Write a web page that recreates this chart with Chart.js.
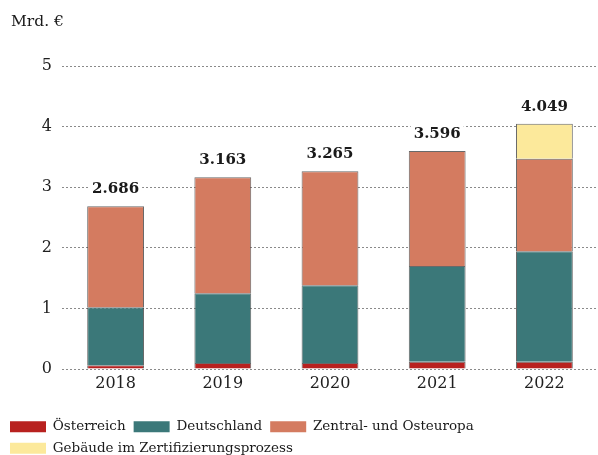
<!DOCTYPE html>
<html>
<head>
<meta charset="utf-8">
<script src="https://cdn.jsdelivr.net/npm/chart.js@4/dist/chart.umd.min.js"></script>
<style>
  body { margin: 0; background: #fff; }
  #chart { display: block; }
</style>
</head>
<body>
<canvas id="chart" width="598" height="455"></canvas>
<script>
const years = ["2018", "2019", "2020", "2021", "2022"]
const oesterreich = [0.06, 0.10, 0.10, 0.12, 0.12]
const deutschland = [0.96, 1.15, 1.28, 1.58, 1.825]
const zentralOst = [1.666, 1.913, 1.885, 1.896, 1.525]
const zertifizierung = [0, 0, 0, 0, 0.579]
const totals = [2.686, 3.163, 3.265, 3.596, 4.049]
const totalLabels = ["2.686", "3.163", "3.265", "3.596", "4.049"]
const yTicks = [0, 1, 2, 3, 4, 5]
const unitLabel = "Mrd. €"

const serif = "'DejaVu Serif', serif"

// totals above each stacked bar, with a white box so the gridline breaks
const totalsPlugin = {
    id: "totals",
    afterDatasetsDraw(chart) {
        const ctx = chart.ctx
        const meta = chart.getDatasetMeta(0)
        const y = chart.scales.y
        ctx.save()
        ctx.font = "bold 15px " + serif
        ctx.textAlign = "center"
        ctx.textBaseline = "alphabetic"
        meta.data.forEach((bar, i) => {
            const top = y.getPixelForValue(totals[i])
            const w = ctx.measureText(totalLabels[i]).width
            ctx.fillStyle = "#fff"
            ctx.fillRect(bar.x - w / 2 - 3, top - 30, w + 6, 20)
            ctx.fillStyle = "#1a1a1a"
            ctx.fillText(totalLabels[i], bar.x, top - 13)
        })
        ctx.restore()
    }
}

// unit label top left
const unitPlugin = {
    id: "unit",
    afterDraw(chart) {
        const ctx = chart.ctx
        ctx.save()
        ctx.font = "15.5px " + serif
        ctx.fillStyle = "#1a1a1a"
        ctx.textAlign = "left"
        ctx.textBaseline = "middle"
        ctx.fillText(unitLabel, 11, 22)
        ctx.restore()
    }
}

const border = "rgba(55,55,55,0.75)"

new Chart(document.getElementById("chart"), {
    type: "bar",
    data: {
        labels: years,
        datasets: [
            { label: "Österreich", data: oesterreich, backgroundColor: "#b8211f", borderColor: border, borderWidth: 1 },
            { label: "Deutschland", data: deutschland, backgroundColor: "#3b7879", borderColor: border, borderWidth: 1 },
            { label: "Zentral- und Osteuropa", data: zentralOst, backgroundColor: "#d47b60", borderColor: border, borderWidth: 1 },
            { label: "Gebäude im Zertifizierungsprozess", data: zertifizierung, backgroundColor: "#fce99b", borderColor: border, borderWidth: 1 }
        ]
    },
    options: {
        responsive: false,
        animation: false,
        layout: { padding: { top: 66, right: 0, left: 2, bottom: -10 } },
        datasets: { bar: { categoryPercentage: 1, barPercentage: 0.53 } },
        scales: {
            x: {
                stacked: true,
                grid: { display: false },
                border: { display: false },
                afterFit(axis) { axis.height = 43 },
                ticks: { color: "#1f1f1f", font: { family: serif, size: 16 }, padding: -3 }
            },
            y: {
                stacked: true,
                min: 0,
                max: 5,
                afterBuildTicks(axis) { axis.ticks = yTicks.map(v => ({ value: v })) },
                afterFit(axis) { axis.width = 60 },
                grid: { color: "#8a8a8a", lineWidth: 1, drawTicks: false },
                border: { display: false, dash: [2, 2] },
                ticks: { color: "#1f1f1f", font: { family: serif, size: 16 }, padding: 10 }
            }
        },
        plugins: {
            title: { display: false },
            legend: {
                position: "bottom",
                align: "start",
                labels: {
                    boxWidth: 36,
                    boxHeight: 11,
                    padding: 8,
                    color: "#1a1a1a",
                    font: { family: serif, size: 13.5 },
                    generateLabels(chart) {
                        return chart.data.datasets.map((ds, i) => ({
                            text: ds.label,
                            fillStyle: ds.backgroundColor,
                            strokeStyle: ds.backgroundColor,
                            lineWidth: 0,
                            datasetIndex: i,
                            fontColor: "#1a1a1a"
                        }))
                    }
                }
            },
            tooltip: { enabled: false }
        }
    },
    plugins: [totalsPlugin, unitPlugin]
})
</script>
</body>
</html>
